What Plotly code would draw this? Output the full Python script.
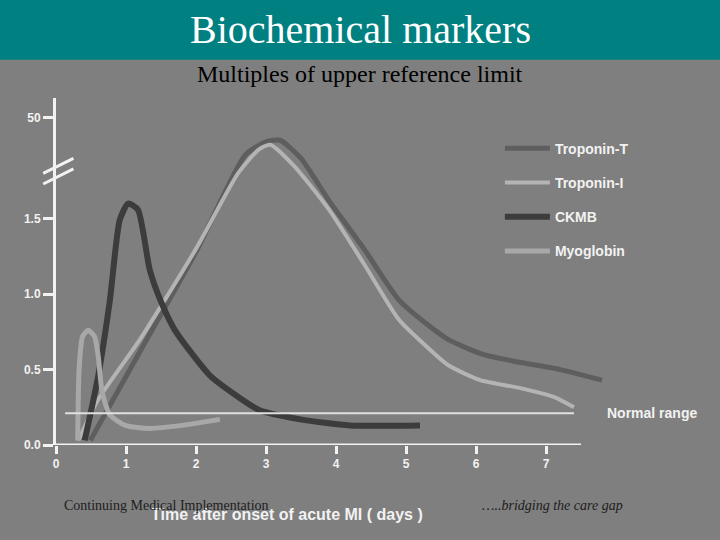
import plotly.graph_objects as go

tnt_x = [0.49, 1.2, 2.0, 2.7, 3.0, 3.2, 3.5, 3.9, 4.4, 4.9, 5.3, 5.6, 6.1, 6.6, 7.2, 7.8]
tnt_y = [0.03, 0.62, 1.28, 1.92, 2.01, 2.02, 1.9, 1.62, 1.3, 0.96, 0.8, 0.7, 0.6, 0.55, 0.5, 0.43]
tni_x = [0.32, 0.6, 1.2, 2.0, 2.6, 2.9, 3.06, 3.4, 3.9, 4.4, 4.9, 5.3, 5.6, 6.06, 6.6, 7.1, 7.4]
tni_y = [0.03, 0.3, 0.7, 1.3, 1.8, 1.96, 1.99, 1.85, 1.56, 1.2, 0.83, 0.65, 0.53, 0.43, 0.38, 0.32, 0.25]
ckmb_x = [0.41, 0.6, 0.77, 0.91, 1.03, 1.17, 1.34, 1.5, 1.7, 2.2, 2.6, 2.91, 3.49, 4.2, 5.2]
ckmb_y = [0.03, 0.45, 0.96, 1.49, 1.6, 1.56, 1.16, 0.95, 0.76, 0.46, 0.32, 0.23, 0.17, 0.13, 0.13]
myo_x = [0.31, 0.33, 0.38, 0.46, 0.55, 0.6, 0.66, 0.77, 0.99, 1.34, 1.8, 2.34]
myo_y = [0.03, 0.5, 0.72, 0.76, 0.72, 0.6, 0.35, 0.2, 0.13, 0.11, 0.13, 0.17]
normal_x = [0.13, 7.4]
normal_y = [0.21, 0.21]

xticks = [0, 1, 2, 3, 4, 5, 6, 7]
xtext = ["<b>%d</b>" % v for v in xticks]
yticks = [0, 0.5, 1.0, 1.5, 2.17]
ytext = ["<b>0.0</b>", "<b>0.5</b>", "<b>1.0</b>", "<b>1.5</b>", "<b>50</b>"]

BG = "#7f7f7f"
W = "#f2f2f2"
SANS = "Liberation Sans"

fig = go.Figure()
def add(x, y, name, color, width):
    fig.add_trace(go.Scatter(x=x, y=y, mode="lines", name="<b>%s</b>" % name, legendgroup=name,
                             line=dict(color=color, width=width, shape="spline", smoothing=0.6)))
add(tnt_x, tnt_y, "Troponin-T", "#5e5e5e", 5)
add(tni_x, tni_y, "Troponin-I", "#b4b4b4", 4)
add(ckmb_x, ckmb_y, "CKMB", "#3c3c3c", 6)
add(myo_x, myo_y, "Myoglobin", "#a8a8a8", 5)
fig.add_trace(go.Scatter(x=normal_x, y=normal_y, mode="lines", showlegend=False,
                         line=dict(color="#e0e0e0", width=2)))

fig.update_layout(
    width=720, height=540, paper_bgcolor=BG, plot_bgcolor=BG,
    margin=dict(l=56, r=83, t=98, b=95),
    font=dict(family=SANS, color=W),
    legend=dict(x=0.764, y=0.9, xanchor="left", yanchor="top", bgcolor="rgba(0,0,0,0)",
                font=dict(size=14, color=W, family=SANS), tracegroupgap=13,
                itemwidth=45),
    xaxis=dict(range=[0, 8.3], tickvals=xticks, ticktext=xtext, showgrid=False, zeroline=False,
               showline=False, ticks="outside", tickcolor=W,
               ticklen=8, tickwidth=3, tickfont=dict(size=12, color=W, family=SANS)),
    yaxis=dict(range=[0, 2.3], tickvals=yticks, ticktext=ytext, showgrid=False,
               zeroline=False, showline=True, linecolor=W, linewidth=3, ticks="outside",
               tickcolor=W, ticklen=10, tickwidth=3,
               tickfont=dict(size=12, color=W, family=SANS)),
    shapes=[
        dict(type="rect", xref="paper", yref="paper", x0=-0.15, x1=1.3, y0=1.11, y1=1.3,
             fillcolor="#008080", line=dict(width=0), layer="below"),
        dict(type="line", xref="x", yref="y", x0=-0.02, x1=7.5, y0=0, y1=0,
             line=dict(color=W, width=3)),
        dict(type="line", xref="paper", yref="y", x0=-0.022, x1=0.03, y0=1.8, y1=1.9,
             line=dict(color=W, width=3)),
        dict(type="line", xref="paper", yref="y", x0=-0.022, x1=0.03, y0=1.73, y1=1.83,
             line=dict(color=W, width=3)),
    ],
    annotations=[
        dict(text="Biochemical markers", xref="paper", yref="paper", x=0.524, y=1.196,
             xanchor="center", yanchor="middle", showarrow=False,
             font=dict(family="Liberation Serif", size=40, color="white")),
        dict(text="Multiples of upper reference limit", xref="paper", yref="paper", x=0.524,
             y=1.068, xanchor="center", yanchor="middle", showarrow=False,
             font=dict(family="Liberation Serif", size=24, color="black")),
        dict(text="<b>Normal range</b>", xref="paper", x=1.026, y=0.21, showarrow=False,
             xanchor="center", yanchor="middle", font=dict(size=14, color=W, family=SANS)),
        dict(text="<b>Time after onset of acute MI ( days )</b>", xref="paper", yref="paper",
             x=0.397, y=-0.2, xanchor="center", yanchor="middle", showarrow=False,
             font=dict(size=16, color=W, family=SANS)),
        dict(text="Continuing Medical Implementation", xref="paper", yref="paper", x=0.01,
             y=-0.175, xanchor="left", yanchor="middle", showarrow=False,
             font=dict(family="Liberation Serif", size=14, color="#202020")),
        dict(text="<i>…..bridging the care gap</i>", xref="paper", yref="paper", x=0.73,
             y=-0.175, xanchor="left", yanchor="middle", showarrow=False,
             font=dict(family="Liberation Serif", size=14, color="#202020")),
    ],
)
fig.write_html("out.html", config={"displayModeBar": False},
               post_script="document.body.style.margin='0';")
